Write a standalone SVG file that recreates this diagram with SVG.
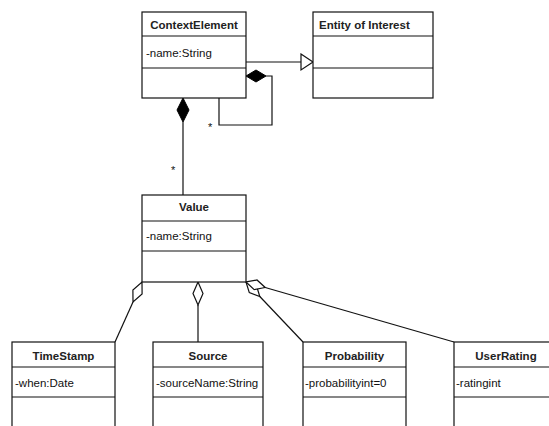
<svg xmlns="http://www.w3.org/2000/svg" width="549" height="426" viewBox="0 0 549 426">
<style>
.box{fill:#fff;stroke:#111;stroke-width:1.2}
.ln{fill:none;stroke:#111;stroke-width:1.2}
.h{font-family:"Liberation Sans",Arial,sans-serif;font-size:11.5px;font-weight:bold;fill:#222;text-anchor:middle}
.a{font-family:"Liberation Sans",Arial,sans-serif;font-size:11.5px;fill:#111}
.st{font-family:"Liberation Sans",Arial,sans-serif;font-size:11px;fill:#111}
.fd{fill:#000;stroke:#000;stroke-width:1}
.od{fill:#fff;stroke:#111;stroke-width:1.2}
</style>
<rect width="549" height="426" fill="#fff"/>
<g id="connectors">
  <line class="ln" x1="246" y1="62" x2="301" y2="62"/>
  <polygon class="od" points="301,54 313,62 301,70"/>
  <polyline class="ln" points="266,76 272,76 272,125 219,125 219,98"/>
  <polygon class="fd" points="246,76 256,70 266,76 256,82"/>
  <line class="ln" x1="183" y1="122" x2="183" y2="195"/>
  <polygon class="fd" points="183,98 189,110 183,122 177,110"/>
  <text class="st" x="208" y="131">*</text>
  <text class="st" x="171" y="174">*</text>
  <line class="ln" x1="133" y1="302" x2="115" y2="342"/>
  <polygon class="od" points="142,282 142.1,294 133,302 132.9,290"/>
  <line class="ln" x1="198" y1="305" x2="198" y2="342"/>
  <polygon class="od" points="198,282 203,293.5 198,305 193,293.5"/>
  <line class="ln" x1="259.8" y1="296.5" x2="303" y2="342"/>
  <polygon class="od" points="246,282 249.3,292.6 259.8,296.5 256.5,285.8"/>
  <line class="ln" x1="265.2" y1="287.5" x2="454" y2="342"/>
  <polygon class="od" points="246,282 254.2,289.6 265.2,287.5 257,280"/>
</g>
<g id="ContextElement">
  <rect class="box" x="142" y="12" width="104" height="86"/>
  <line class="ln" x1="142" y1="36" x2="246" y2="36"/>
  <line class="ln" x1="142" y1="68" x2="246" y2="68"/>
  <text class="h" x="194" y="29">ContextElement</text>
  <text class="a" x="146" y="57">-name:String</text>
</g>
<g id="EntityOfInterest">
  <rect class="box" x="313" y="12" width="120" height="86"/>
  <line class="ln" x1="313" y1="36" x2="433" y2="36"/>
  <line class="ln" x1="313" y1="68" x2="433" y2="68"/>
  <text class="h" x="319" y="29" style="text-anchor:start">Entity of Interest</text>
</g>
<g id="Value">
  <rect class="box" x="142" y="195" width="104" height="87"/>
  <line class="ln" x1="142" y1="221" x2="246" y2="221"/>
  <line class="ln" x1="142" y1="251" x2="246" y2="251"/>
  <text class="h" x="194" y="211">Value</text>
  <text class="a" x="146" y="240">-name:String</text>
</g>
<g id="TimeStamp">
  <rect class="box" x="12" y="342" width="103" height="100"/>
  <line class="ln" x1="12" y1="367" x2="115" y2="367"/>
  <line class="ln" x1="12" y1="397" x2="115" y2="397"/>
  <text class="h" x="63.5" y="360">TimeStamp</text>
  <text class="a" x="15" y="387">-when:Date</text>
</g>
<g id="Source">
  <rect class="box" x="153" y="342" width="110" height="100"/>
  <line class="ln" x1="153" y1="367" x2="263" y2="367"/>
  <line class="ln" x1="153" y1="397" x2="263" y2="397"/>
  <text class="h" x="208" y="360">Source</text>
  <text class="a" x="156" y="387">-sourceName:String</text>
</g>
<g id="Probability">
  <rect class="box" x="303" y="342" width="103" height="100"/>
  <line class="ln" x1="303" y1="367" x2="406" y2="367"/>
  <line class="ln" x1="303" y1="397" x2="406" y2="397"/>
  <text class="h" x="354.5" y="360">Probability</text>
  <text class="a" x="305" y="387">-probabilityint=0</text>
</g>
<g id="UserRating">
  <rect class="box" x="454" y="342" width="104" height="100"/>
  <line class="ln" x1="454" y1="367" x2="558" y2="367"/>
  <line class="ln" x1="454" y1="397" x2="558" y2="397"/>
  <text class="h" x="506" y="360">UserRating</text>
  <text class="a" x="456" y="387">-ratingint</text>
</g>
</svg>
